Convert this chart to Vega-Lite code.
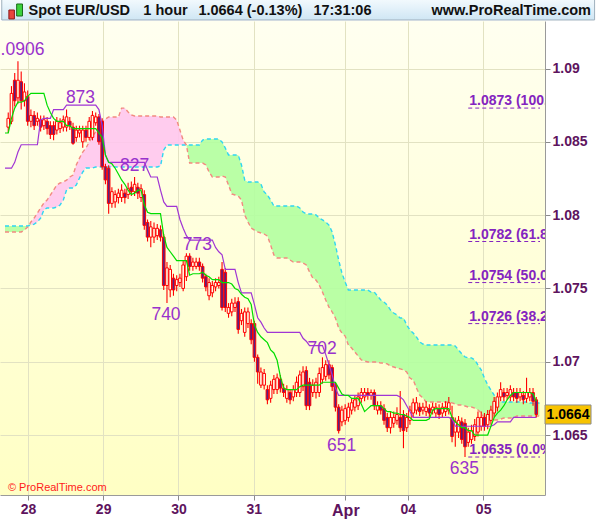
{
"$schema":"https://vega.github.io/schema/vega-lite/v6.json",
"width":545,"height":474,
"autosize":{"type":"none"},
"padding":{"left":0,"top":21,"right":55,"bottom":24},
"background":"#ffffff",
"config":{"font":"Liberation Sans","axis":{"title":null},"view":{"stroke":null,"fill":{"gradient":"linear","x1":0,"y1":0,"x2":0,"y2":1,"stops":[{"offset":0,"color":"#fffff0"},{"offset":1,"color":"#ffffc4"}]}}},
"data":{"name":"b"},
"datasets":{
"b":[
{"i":0,"t":1.0856,"k":1.0832,"a":1.07926,"b":1.07885},
{"i":1,"o":1.0860,"h":1.0870,"l":1.0856,"c":1.0866,"t":1.0856,"k":1.0832,"a":1.07926,"b":1.07885},
{"i":2,"o":1.0864,"h":1.0888,"l":1.0862,"c":1.0883,"t":1.0866,"k":1.0832,"a":1.07926,"b":1.07885},
{"i":3,"o":1.0892,"h":1.0897,"l":1.0874,"c":1.0878,"t":1.0873,"k":1.0836,"a":1.07926,"b":1.07885},
{"i":4,"o":1.0880,"h":1.0905,"l":1.0876,"c":1.0892,"t":1.0877,"k":1.0843,"a":1.07926,"b":1.07885},
{"i":5,"o":1.0891,"h":1.0898,"l":1.0872,"c":1.0878,"t":1.0877,"k":1.0848,"a":1.07926,"b":1.07885},
{"i":6,"o":1.0878,"h":1.0890,"l":1.0874,"c":1.0884,"t":1.0878,"k":1.0848,"a":1.07926,"b":1.07898},
{"i":7,"o":1.0881,"h":1.0885,"l":1.0861,"c":1.0864,"t":1.0881,"k":1.0848,"a":1.07926,"b":1.07919},
{"i":8,"o":1.0864,"h":1.0872,"l":1.0860,"c":1.0868,"t":1.0883,"k":1.0848,"a":1.07932,"b":1.07953},
{"i":9,"o":1.0868,"h":1.0871,"l":1.0858,"c":1.0861,"t":1.0883,"k":1.0848,"a":1.07939,"b":1.07980},
{"i":10,"o":1.0864,"h":1.0870,"l":1.0861,"c":1.0866,"t":1.0883,"k":1.0848,"a":1.07953,"b":1.08014},
{"i":11,"o":1.0865,"h":1.0868,"l":1.0857,"c":1.0860,"t":1.0883,"k":1.0865,"a":1.07980,"b":1.08049},
{"i":12,"o":1.0861,"h":1.0868,"l":1.0858,"c":1.0865,"t":1.0883,"k":1.0866,"a":1.08035,"b":1.08083},
{"i":13,"o":1.0864,"h":1.0867,"l":1.0855,"c":1.0859,"t":1.0875,"k":1.0866,"a":1.08049,"b":1.08103},
{"i":14,"o":1.0861,"h":1.0864,"l":1.0852,"c":1.0855,"t":1.0870,"k":1.0866,"a":1.08049,"b":1.08137},
{"i":15,"o":1.0861,"h":1.0864,"l":1.0851,"c":1.0855,"t":1.0866,"k":1.0872,"a":1.08049,"b":1.08171},
{"i":16,"o":1.0858,"h":1.0867,"l":1.0855,"c":1.0864,"t":1.0864,"k":1.0872,"a":1.08055,"b":1.08205},
{"i":17,"o":1.0859,"h":1.0866,"l":1.0856,"c":1.0863,"t":1.0864,"k":1.0872,"a":1.08069,"b":1.08219},
{"i":18,"o":1.0860,"h":1.0868,"l":1.0857,"c":1.0865,"t":1.0864,"k":1.0872,"a":1.08103,"b":1.08226},
{"i":19,"o":1.0860,"h":1.0872,"l":1.0857,"c":1.0867,"t":1.0861,"k":1.0875,"a":1.08171,"b":1.08239},
{"i":20,"o":1.0864,"h":1.0867,"l":1.0858,"c":1.0861,"t":1.0861,"k":1.0875,"a":1.08185,"b":1.08260},
{"i":21,"o":1.0860,"h":1.0863,"l":1.0848,"c":1.0849,"t":1.0859,"k":1.0875,"a":1.08185,"b":1.08273},
{"i":22,"o":1.0853,"h":1.0861,"l":1.0850,"c":1.0858,"t":1.0859,"k":1.0875,"a":1.08205,"b":1.08342},
{"i":23,"o":1.0856,"h":1.0861,"l":1.0853,"c":1.0858,"t":1.0859,"k":1.0875,"a":1.08253,"b":1.08389},
{"i":24,"o":1.0850,"h":1.0861,"l":1.0846,"c":1.0858,"t":1.0859,"k":1.0875,"a":1.08294,"b":1.08430},
{"i":25,"o":1.0858,"h":1.0861,"l":1.0850,"c":1.0853,"t":1.0859,"k":1.0875,"a":1.08321,"b":1.08458},
{"i":26,"o":1.0853,"h":1.0867,"l":1.0851,"c":1.0864,"t":1.0859,"k":1.0875,"a":1.08321,"b":1.08499},
{"i":27,"o":1.0853,"h":1.0871,"l":1.0851,"c":1.0868,"t":1.0859,"k":1.0875,"a":1.08321,"b":1.08539},
{"i":28,"o":1.0863,"h":1.0870,"l":1.0861,"c":1.0867,"t":1.0859,"k":1.0875,"a":1.08328,"b":1.08567},
{"i":29,"o":1.0867,"h":1.0869,"l":1.0848,"c":1.0850,"t":1.0856,"k":1.0872,"a":1.08328,"b":1.08608},
{"i":30,"o":1.0864,"h":1.0866,"l":1.0831,"c":1.0833,"t":1.0853,"k":1.0861,"a":1.08328,"b":1.08635},
{"i":31,"o":1.0833,"h":1.0835,"l":1.0821,"c":1.0824,"t":1.0841,"k":1.0841,"a":1.08328,"b":1.08655},
{"i":32,"o":1.0832,"h":1.0834,"l":1.0801,"c":1.0808,"t":1.0836,"k":1.0836,"a":1.08328,"b":1.08669},
{"i":33,"o":1.0808,"h":1.0819,"l":1.0805,"c":1.0816,"t":1.0835,"k":1.0836,"a":1.08328,"b":1.08669},
{"i":34,"o":1.0809,"h":1.0817,"l":1.0805,"c":1.0814,"t":1.0832,"k":1.0836,"a":1.08328,"b":1.08669},
{"i":35,"o":1.0812,"h":1.0818,"l":1.0808,"c":1.0815,"t":1.0828,"k":1.0836,"a":1.08328,"b":1.08669},
{"i":36,"o":1.0812,"h":1.0821,"l":1.0809,"c":1.0817,"t":1.0824,"k":1.0836,"a":1.08328,"b":1.08730},
{"i":37,"o":1.0815,"h":1.0818,"l":1.0808,"c":1.0812,"t":1.0821,"k":1.0836,"a":1.08328,"b":1.08730},
{"i":38,"o":1.0814,"h":1.0822,"l":1.0811,"c":1.0818,"t":1.0817,"k":1.0836,"a":1.08328,"b":1.08703},
{"i":39,"o":1.0819,"h":1.0823,"l":1.0813,"c":1.0816,"t":1.0814,"k":1.0836,"a":1.08328,"b":1.08683},
{"i":40,"o":1.0816,"h":1.0826,"l":1.0813,"c":1.0821,"t":1.0815,"k":1.0836,"a":1.08328,"b":1.08676},
{"i":41,"o":1.0819,"h":1.0822,"l":1.0811,"c":1.0815,"t":1.0817,"k":1.0836,"a":1.08328,"b":1.08676},
{"i":42,"o":1.0812,"h":1.0821,"l":1.0809,"c":1.0818,"t":1.0817,"k":1.0836,"a":1.08328,"b":1.08676},
{"i":43,"o":1.0814,"h":1.0817,"l":1.0790,"c":1.0793,"t":1.0807,"k":1.0836,"a":1.08328,"b":1.08676},
{"i":44,"o":1.0795,"h":1.0797,"l":1.0782,"c":1.0785,"t":1.0802,"k":1.0831,"a":1.08328,"b":1.08676},
{"i":45,"o":1.0785,"h":1.0796,"l":1.0778,"c":1.0792,"t":1.0801,"k":1.0826,"a":1.08328,"b":1.08676},
{"i":46,"o":1.0785,"h":1.0795,"l":1.0781,"c":1.0791,"t":1.0801,"k":1.0826,"a":1.08328,"b":1.08676},
{"i":47,"o":1.0786,"h":1.0794,"l":1.0783,"c":1.0791,"t":1.0801,"k":1.0826,"a":1.08328,"b":1.08676},
{"i":48,"o":1.0790,"h":1.0793,"l":1.0782,"c":1.0785,"t":1.0801,"k":1.0817,"a":1.08335,"b":1.08669},
{"i":49,"o":1.0785,"h":1.0787,"l":1.0749,"c":1.0752,"t":1.0786,"k":1.0809,"a":1.08444,"b":1.08669},
{"i":50,"o":1.0752,"h":1.0768,"l":1.0740,"c":1.0764,"t":1.0778,"k":1.0806,"a":1.08478,"b":1.08669},
{"i":51,"o":1.0749,"h":1.0766,"l":1.0744,"c":1.0763,"t":1.0775,"k":1.0806,"a":1.08478,"b":1.08669},
{"i":52,"o":1.0757,"h":1.0760,"l":1.0745,"c":1.0749,"t":1.0772,"k":1.0806,"a":1.08478,"b":1.08669},
{"i":53,"o":1.0752,"h":1.0759,"l":1.0748,"c":1.0756,"t":1.0769,"k":1.0806,"a":1.08478,"b":1.08649},
{"i":54,"o":1.0754,"h":1.0760,"l":1.0751,"c":1.0757,"t":1.0769,"k":1.0797,"a":1.08478,"b":1.08580},
{"i":55,"o":1.0750,"h":1.0769,"l":1.0748,"c":1.0766,"t":1.0769,"k":1.0791,"a":1.08478,"b":1.08512},
{"i":56,"o":1.0758,"h":1.0774,"l":1.0755,"c":1.0772,"t":1.0769,"k":1.0786,"a":1.08478,"b":1.08478},
{"i":57,"o":1.0772,"h":1.0774,"l":1.0762,"c":1.0765,"t":1.0759,"k":1.0783,"a":1.08478,"b":1.08355},
{"i":58,"o":1.0765,"h":1.0771,"l":1.0762,"c":1.0768,"t":1.0760,"k":1.0783,"a":1.08478,"b":1.08355},
{"i":59,"o":1.0765,"h":1.0771,"l":1.0763,"c":1.0768,"t":1.0760,"k":1.0783,"a":1.08478,"b":1.08355},
{"i":60,"o":1.0768,"h":1.0771,"l":1.0762,"c":1.0765,"t":1.0760,"k":1.0783,"a":1.08478,"b":1.08355},
{"i":61,"o":1.0765,"h":1.0767,"l":1.0754,"c":1.0757,"t":1.0761,"k":1.0783,"a":1.08512,"b":1.08355},
{"i":62,"o":1.0758,"h":1.0760,"l":1.0748,"c":1.0751,"t":1.0759,"k":1.0783,"a":1.08519,"b":1.08342},
{"i":63,"o":1.0745,"h":1.0757,"l":1.0742,"c":1.0754,"t":1.0758,"k":1.0783,"a":1.08519,"b":1.08294},
{"i":64,"o":1.0747,"h":1.0755,"l":1.0744,"c":1.0752,"t":1.0756,"k":1.0783,"a":1.08519,"b":1.08260},
{"i":65,"o":1.0751,"h":1.0757,"l":1.0748,"c":1.0754,"t":1.0756,"k":1.0778,"a":1.08519,"b":1.08260},
{"i":66,"o":1.0752,"h":1.0758,"l":1.0750,"c":1.0754,"t":1.0756,"k":1.0775,"a":1.08519,"b":1.08260},
{"i":67,"o":1.0763,"h":1.0768,"l":1.0735,"c":1.0737,"t":1.0754,"k":1.0773,"a":1.08499,"b":1.08267},
{"i":68,"o":1.0761,"h":1.0764,"l":1.0734,"c":1.0737,"t":1.0754,"k":1.0763,"a":1.08458,"b":1.08260},
{"i":69,"o":1.0733,"h":1.0740,"l":1.0730,"c":1.0737,"t":1.0754,"k":1.0763,"a":1.08410,"b":1.08205},
{"i":70,"o":1.0734,"h":1.0743,"l":1.0731,"c":1.0740,"t":1.0753,"k":1.0763,"a":1.08410,"b":1.08144},
{"i":71,"o":1.0737,"h":1.0744,"l":1.0734,"c":1.0740,"t":1.0750,"k":1.0763,"a":1.08410,"b":1.08137},
{"i":72,"o":1.0741,"h":1.0744,"l":1.0719,"c":1.0722,"t":1.0749,"k":1.0754,"a":1.08410,"b":1.08130},
{"i":73,"o":1.0728,"h":1.0736,"l":1.0725,"c":1.0733,"t":1.0746,"k":1.0747,"a":1.08342,"b":1.08103},
{"i":74,"o":1.0720,"h":1.0737,"l":1.0717,"c":1.0734,"t":1.0744,"k":1.0747,"a":1.08239,"b":1.08001},
{"i":75,"o":1.0726,"h":1.0737,"l":1.0723,"c":1.0734,"t":1.0743,"k":1.0747,"a":1.08226,"b":1.07953},
{"i":76,"o":1.0726,"h":1.0729,"l":1.0712,"c":1.0715,"t":1.0739,"k":1.0747,"a":1.08226,"b":1.07912},
{"i":77,"o":1.0726,"h":1.0728,"l":1.0700,"c":1.0703,"t":1.0725,"k":1.0739,"a":1.08226,"b":1.07898},
{"i":78,"o":1.0703,"h":1.0705,"l":1.0685,"c":1.0693,"t":1.0720,"k":1.0730,"a":1.08226,"b":1.07885},
{"i":79,"o":1.0684,"h":1.0696,"l":1.0682,"c":1.0693,"t":1.0717,"k":1.0727,"a":1.08212,"b":1.07878},
{"i":80,"o":1.0684,"h":1.0695,"l":1.0681,"c":1.0692,"t":1.0715,"k":1.0723,"a":1.08158,"b":1.07871},
{"i":81,"o":1.0681,"h":1.0684,"l":1.0671,"c":1.0674,"t":1.0713,"k":1.0720,"a":1.08137,"b":1.07857},
{"i":82,"o":1.0675,"h":1.0687,"l":1.0672,"c":1.0684,"t":1.0708,"k":1.0720,"a":1.08103,"b":1.07796},
{"i":83,"o":1.0681,"h":1.0691,"l":1.0678,"c":1.0688,"t":1.0706,"k":1.0720,"a":1.08062,"b":1.07728},
{"i":84,"o":1.0681,"h":1.0692,"l":1.0678,"c":1.0689,"t":1.0701,"k":1.0720,"a":1.08062,"b":1.07708},
{"i":85,"o":1.0688,"h":1.0691,"l":1.0679,"c":1.0682,"t":1.0690,"k":1.0720,"a":1.08062,"b":1.07708},
{"i":86,"o":1.0682,"h":1.0685,"l":1.0676,"c":1.0679,"t":1.0682,"k":1.0720,"a":1.08062,"b":1.07708},
{"i":87,"o":1.0675,"h":1.0684,"l":1.0672,"c":1.0681,"t":1.0681,"k":1.0720,"a":1.08062,"b":1.07708},
{"i":88,"o":1.0679,"h":1.0681,"l":1.0671,"c":1.0674,"t":1.0681,"k":1.0720,"a":1.08062,"b":1.07694},
{"i":89,"o":1.0676,"h":1.0684,"l":1.0673,"c":1.0681,"t":1.0681,"k":1.0720,"a":1.08062,"b":1.07680},
{"i":90,"o":1.0679,"h":1.0690,"l":1.0676,"c":1.0686,"t":1.0681,"k":1.0720,"a":1.08062,"b":1.07680},
{"i":91,"o":1.0679,"h":1.0694,"l":1.0676,"c":1.0691,"t":1.0683,"k":1.0720,"a":1.08049,"b":1.07680},
{"i":92,"o":1.0683,"h":1.0697,"l":1.0680,"c":1.0693,"t":1.0684,"k":1.0716,"a":1.08021,"b":1.07673},
{"i":93,"o":1.0694,"h":1.0697,"l":1.0667,"c":1.0670,"t":1.0684,"k":1.0714,"a":1.08008,"b":1.07660},
{"i":94,"o":1.0686,"h":1.0689,"l":1.0667,"c":1.0670,"t":1.0684,"k":1.0711,"a":1.08008,"b":1.07612},
{"i":95,"o":1.0679,"h":1.0688,"l":1.0676,"c":1.0684,"t":1.0684,"k":1.0711,"a":1.08008,"b":1.07571},
{"i":96,"o":1.0679,"h":1.0689,"l":1.0675,"c":1.0686,"t":1.0684,"k":1.0711,"a":1.08001,"b":1.07557},
{"i":97,"o":1.0679,"h":1.0696,"l":1.0676,"c":1.0692,"t":1.0684,"k":1.0711,"a":1.07980,"b":1.07523},
{"i":98,"o":1.0688,"h":1.0703,"l":1.0685,"c":1.0696,"t":1.0686,"k":1.0711,"a":1.07967,"b":1.07475},
{"i":99,"o":1.0690,"h":1.0701,"l":1.0687,"c":1.0698,"t":1.0686,"k":1.0705,"a":1.07953,"b":1.07421},
{"i":100,"o":1.0698,"h":1.0701,"l":1.0688,"c":1.0691,"t":1.0686,"k":1.0698,"a":1.07932,"b":1.07373},
{"i":101,"o":1.0696,"h":1.0698,"l":1.0680,"c":1.0683,"t":1.0686,"k":1.0691,"a":1.07885,"b":1.07339},
{"i":102,"o":1.0684,"h":1.0686,"l":1.0666,"c":1.0669,"t":1.0686,"k":1.0682,"a":1.07796,"b":1.07298},
{"i":103,"o":1.0669,"h":1.0671,"l":1.0651,"c":1.0653,"t":1.0682,"k":1.0677,"a":1.07694,"b":1.07230},
{"i":104,"o":1.0659,"h":1.0670,"l":1.0656,"c":1.0667,"t":1.0678,"k":1.0677,"a":1.07605,"b":1.07196},
{"i":105,"o":1.0660,"h":1.0671,"l":1.0657,"c":1.0668,"t":1.0677,"k":1.0677,"a":1.07544,"b":1.07175},
{"i":106,"o":1.0662,"h":1.0672,"l":1.0659,"c":1.0669,"t":1.0677,"k":1.0677,"a":1.07489,"b":1.07114},
{"i":107,"o":1.0667,"h":1.0675,"l":1.0664,"c":1.0672,"t":1.0675,"k":1.0677,"a":1.07489,"b":1.07094},
{"i":108,"o":1.0669,"h":1.0677,"l":1.0666,"c":1.0674,"t":1.0675,"k":1.0677,"a":1.07489,"b":1.07066},
{"i":109,"o":1.0670,"h":1.0679,"l":1.0667,"c":1.0676,"t":1.0675,"k":1.0677,"a":1.07489,"b":1.07039},
{"i":110,"o":1.0675,"h":1.0682,"l":1.0672,"c":1.0679,"t":1.0671,"k":1.0677,"a":1.07489,"b":1.07012},
{"i":111,"o":1.0676,"h":1.0682,"l":1.0673,"c":1.0679,"t":1.0666,"k":1.0677,"a":1.07489,"b":1.07005},
{"i":112,"o":1.0679,"h":1.0682,"l":1.0674,"c":1.0677,"t":1.0668,"k":1.0677,"a":1.07489,"b":1.06998},
{"i":113,"o":1.0677,"h":1.0681,"l":1.0674,"c":1.0679,"t":1.0670,"k":1.0677,"a":1.07475,"b":1.06998},
{"i":114,"o":1.0679,"h":1.0681,"l":1.0667,"c":1.0670,"t":1.0670,"k":1.0677,"a":1.07475,"b":1.06998},
{"i":115,"o":1.0667,"h":1.0673,"l":1.0664,"c":1.0670,"t":1.0670,"k":1.0677,"a":1.07448,"b":1.06998},
{"i":116,"o":1.0670,"h":1.0673,"l":1.0664,"c":1.0667,"t":1.0670,"k":1.0677,"a":1.07421,"b":1.06991},
{"i":117,"o":1.0668,"h":1.0671,"l":1.0657,"c":1.0660,"t":1.0668,"k":1.0677,"a":1.07407,"b":1.06991},
{"i":118,"o":1.0662,"h":1.0665,"l":1.0652,"c":1.0655,"t":1.0666,"k":1.0677,"a":1.07386,"b":1.06985},
{"i":119,"o":1.0655,"h":1.0666,"l":1.0651,"c":1.0662,"t":1.0666,"k":1.0677,"a":1.07352,"b":1.06971},
{"i":120,"o":1.0658,"h":1.0666,"l":1.0655,"c":1.0662,"t":1.0665,"k":1.0677,"a":1.07332,"b":1.06964},
{"i":121,"o":1.0660,"h":1.0669,"l":1.0657,"c":1.0664,"t":1.0665,"k":1.0677,"a":1.07319,"b":1.06957},
{"i":122,"o":1.0662,"h":1.0680,"l":1.0652,"c":1.0655,"t":1.0664,"k":1.0676,"a":1.07298,"b":1.06951},
{"i":123,"o":1.0664,"h":1.0667,"l":1.0641,"c":1.0653,"t":1.0664,"k":1.0674,"a":1.07298,"b":1.06944},
{"i":124,"o":1.0655,"h":1.0665,"l":1.0652,"c":1.0662,"t":1.0663,"k":1.0670,"a":1.07251,"b":1.06930},
{"i":125,"o":1.0660,"h":1.0670,"l":1.0657,"c":1.0667,"t":1.0662,"k":1.0666,"a":1.07216,"b":1.06889},
{"i":126,"o":1.0665,"h":1.0675,"l":1.0662,"c":1.0672,"t":1.0660,"k":1.0662,"a":1.07196,"b":1.06876},
{"i":127,"o":1.0667,"h":1.0676,"l":1.0664,"c":1.0672,"t":1.0660,"k":1.0662,"a":1.07169,"b":1.06821},
{"i":128,"o":1.0669,"h":1.0672,"l":1.0663,"c":1.0666,"t":1.0660,"k":1.0662,"a":1.07135,"b":1.06773},
{"i":129,"o":1.0667,"h":1.0672,"l":1.0664,"c":1.0669,"t":1.0660,"k":1.0662,"a":1.07121,"b":1.06753},
{"i":130,"o":1.0666,"h":1.0673,"l":1.0663,"c":1.0669,"t":1.0660,"k":1.0662,"a":1.07114,"b":1.06725},
{"i":131,"o":1.0668,"h":1.0671,"l":1.0662,"c":1.0665,"t":1.0661,"k":1.0662,"a":1.07114,"b":1.06725},
{"i":132,"o":1.0667,"h":1.0672,"l":1.0664,"c":1.0669,"t":1.0667,"k":1.0662,"a":1.07114,"b":1.06725},
{"i":133,"o":1.0665,"h":1.0672,"l":1.0662,"c":1.0669,"t":1.0668,"k":1.0662,"a":1.07114,"b":1.06725},
{"i":134,"o":1.0668,"h":1.0671,"l":1.0661,"c":1.0664,"t":1.0668,"k":1.0662,"a":1.07114,"b":1.06725},
{"i":135,"o":1.0665,"h":1.0672,"l":1.0662,"c":1.0669,"t":1.0668,"k":1.0662,"a":1.07114,"b":1.06725},
{"i":136,"o":1.0666,"h":1.0673,"l":1.0663,"c":1.0669,"t":1.0668,"k":1.0662,"a":1.07114,"b":1.06725},
{"i":137,"o":1.0667,"h":1.0676,"l":1.0664,"c":1.0672,"t":1.0668,"k":1.0662,"a":1.07114,"b":1.06725},
{"i":138,"o":1.0662,"h":1.0670,"l":1.0645,"c":1.0649,"t":1.0662,"k":1.0661,"a":1.07114,"b":1.06719},
{"i":139,"o":1.0652,"h":1.0662,"l":1.0642,"c":1.0659,"t":1.0659,"k":1.0656,"a":1.07107,"b":1.06712},
{"i":140,"o":1.0652,"h":1.0663,"l":1.0648,"c":1.0660,"t":1.0657,"k":1.0656,"a":1.07080,"b":1.06705},
{"i":141,"o":1.0659,"h":1.0662,"l":1.0644,"c":1.0647,"t":1.0655,"k":1.0656,"a":1.07054,"b":1.06705},
{"i":142,"o":1.0658,"h":1.0661,"l":1.0635,"c":1.0642,"t":1.0655,"k":1.0656,"a":1.07033,"b":1.06698},
{"i":143,"o":1.0645,"h":1.0655,"l":1.0642,"c":1.0652,"t":1.0653,"k":1.0656,"a":1.07026,"b":1.06691},
{"i":144,"o":1.0647,"h":1.0657,"l":1.0644,"c":1.0653,"t":1.0653,"k":1.0656,"a":1.07026,"b":1.06691},
{"i":145,"o":1.0649,"h":1.0661,"l":1.0646,"c":1.0657,"t":1.0650,"k":1.0656,"a":1.07012,"b":1.06684},
{"i":146,"o":1.0652,"h":1.0666,"l":1.0649,"c":1.0662,"t":1.0650,"k":1.0656,"a":1.06978,"b":1.06671},
{"i":147,"o":1.0656,"h":1.0666,"l":1.0653,"c":1.0662,"t":1.0650,"k":1.0656,"a":1.06944,"b":1.06650},
{"i":148,"o":1.0662,"h":1.0665,"l":1.0653,"c":1.0656,"t":1.0650,"k":1.0656,"a":1.06889,"b":1.06616},
{"i":149,"o":1.0657,"h":1.0667,"l":1.0654,"c":1.0664,"t":1.0650,"k":1.0656,"a":1.06842,"b":1.06603},
{"i":150,"o":1.0660,"h":1.0670,"l":1.0657,"c":1.0667,"t":1.0656,"k":1.0656,"a":1.06807,"b":1.06603},
{"i":151,"o":1.0665,"h":1.0676,"l":1.0662,"c":1.0673,"t":1.0662,"k":1.0657,"a":1.06773,"b":1.06603},
{"i":152,"o":1.0669,"h":1.0679,"l":1.0666,"c":1.0676,"t":1.0665,"k":1.0659,"a":1.06739,"b":1.06603},
{"i":153,"o":1.0676,"h":1.0686,"l":1.0673,"c":1.0681,"t":1.0667,"k":1.0659,"a":1.06725,"b":1.06609},
{"i":154,"o":1.0679,"h":1.0682,"l":1.0673,"c":1.0676,"t":1.0670,"k":1.0659,"a":1.06725,"b":1.06616},
{"i":155,"o":1.0677,"h":1.0682,"l":1.0674,"c":1.0679,"t":1.0674,"k":1.0659,"a":1.06725,"b":1.06616},
{"i":156,"o":1.0676,"h":1.0684,"l":1.0673,"c":1.0681,"t":1.0677,"k":1.0659,"a":1.06725,"b":1.06616},
{"i":157,"o":1.0679,"h":1.0682,"l":1.0673,"c":1.0676,"t":1.0679,"k":1.0662,"a":1.06725,"b":1.06616},
{"i":158,"o":1.0679,"h":1.0682,"l":1.0672,"c":1.0675,"t":1.0679,"k":1.0662,"a":1.06725,"b":1.06630},
{"i":159,"o":1.0676,"h":1.0682,"l":1.0673,"c":1.0679,"t":1.0679,"k":1.0662,"a":1.06725,"b":1.06630},
{"i":160,"o":1.0677,"h":1.0680,"l":1.0671,"c":1.0674,"t":1.0679,"k":1.0662,"a":1.06725,"b":1.06630},
{"i":161,"o":1.0675,"h":1.0689,"l":1.0672,"c":1.0679,"t":1.0679,"k":1.0662,"a":1.06725,"b":1.06630},
{"i":162,"o":1.0676,"h":1.0682,"l":1.0673,"c":1.0679,"t":1.0679,"k":1.0662,"a":1.06719,"b":1.06630},
{"i":163,"o":1.0679,"h":1.0682,"l":1.0670,"c":1.0673,"t":1.0678,"k":1.0662,"a":1.06719,"b":1.06630},
{"i":164,"o":1.0674,"h":1.0676,"l":1.0662,"c":1.0664,"t":1.0673,"k":1.0662,"a":1.06719,"b":1.06630},
{"i":165,"a":1.06719,"b":1.06630}
],
"sw":[
{"i":3.9,"v":1.0906,"t":"1.0906","k":"hi"},
{"i":23.3,"v":1.0873,"t":"873","k":"hi"},
{"i":40,"v":1.0827,"t":"827","k":"hi"},
{"i":59.4,"v":1.0773,"t":"773","k":"hi"},
{"i":97.9,"v":1.0702,"t":"702","k":"hi"},
{"i":49.7,"v":1.0740,"t":"740","k":"lo"},
{"i":103.9,"v":1.0651,"t":"651","k":"lo"},
{"i":141.8,"v":1.0635,"t":"635","k":"lo"}
],
"fib":[
{"lvl":1.0873,"lab":"1.0873 (100.0%)"},
{"lvl":1.0782,"lab":"1.0782 (61.8%)"},
{"lvl":1.0754,"lab":"1.0754 (50.0%)"},
{"lvl":1.0726,"lab":"1.0726 (38.2%)"},
{"lvl":1.0635,"lab":"1.0635 (0.0%)"}
]
},
"layer":[
{"transform":[{"filter":{"field":"i","range":[7,56]}}],
 "mark":{"type":"area","color":"#ffc6ee","opacity":0.9},
 "encoding":{"x":{"field":"i","type":"quantitative","scale":{"domain":[0,165.15],"nice":false,"zero":false},
   "axis":{"orient":"bottom","values":[7.12,30.3,53.55,76.8,105.06,124.3,147.6],
    "labelExpr":"datum.value < 15 ? '28' : datum.value < 40 ? '29' : datum.value < 60 ? '30' : datum.value < 90 ? '31' : datum.value < 110 ? 'Apr' : datum.value < 130 ? '04' : '05'",
    "title":null,"grid":true,"gridColor":"#e2e2c2","tickColor":"#8a8a8a","tickSize":5,"domainColor":"#9a9a9a","labelFont":"Liberation Sans",
    "labelFontSize":{"condition":{"test":"datum.value > 100 && datum.value < 110","value":16},"value":14},
    "labelFontWeight":"bold","labelColor":"#5e145e","labelPadding":2,"labelOverlap":false,"labelFlush":false}},
  "y":{"field":"a","type":"quantitative","scale":{"domain":[1.06091,1.09324],"nice":false,"zero":false},
   "axis":{"orient":"right","values":[1.065,1.07,1.075,1.08,1.085,1.09],"format":".3~f","title":null,"grid":true,"gridColor":"#e2e2c2",
    "tickColor":"#8a8a8a","tickSize":5,"domainColor":"#9a9a9a","labelFont":"Liberation Sans","labelFontSize":14,"labelFontWeight":"bold",
    "labelColor":"#5e145e","labelPadding":2,"labelOverlap":false}},
  "y2":{"field":"b"}}},
{"transform":[{"filter":{"field":"i","range":[0,8]}}],
 "mark":{"type":"area","color":"#b2ffa0","opacity":0.9},
 "encoding":{"x":{"field":"i","type":"quantitative","scale":{"domain":[0,165.15],"nice":false,"zero":false}},
  "y":{"field":"a","type":"quantitative","scale":{"domain":[1.06091,1.09324],"nice":false,"zero":false}},"y2":{"field":"b"}}},
{"transform":[{"filter":{"field":"i","range":[56,165]}}],
 "mark":{"type":"area","color":"#b2ffa0","opacity":0.9},
 "encoding":{"x":{"field":"i","type":"quantitative","scale":{"domain":[0,165.15],"nice":false,"zero":false}},
  "y":{"field":"a","type":"quantitative","scale":{"domain":[1.06091,1.09324],"nice":false,"zero":false}},"y2":{"field":"b"}}},
{"mark":{"type":"line","color":"#2fd6f2","strokeWidth":1.4,"strokeDash":[4,3]},
 "encoding":{"x":{"field":"i","type":"quantitative","scale":{"domain":[0,165.15],"nice":false,"zero":false}},
  "y":{"field":"a","type":"quantitative","scale":{"domain":[1.06091,1.09324],"nice":false,"zero":false}}}},
{"mark":{"type":"line","color":"#f28a80","strokeWidth":1.4,"strokeDash":[4,3]},
 "encoding":{"x":{"field":"i","type":"quantitative","scale":{"domain":[0,165.15],"nice":false,"zero":false}},
  "y":{"field":"b","type":"quantitative","scale":{"domain":[1.06091,1.09324],"nice":false,"zero":false}}}},
{"mark":{"type":"rule","color":"#ff0000","strokeWidth":1.1},
 "encoding":{"x":{"field":"i","type":"quantitative","scale":{"domain":[0,165.15],"nice":false,"zero":false}},
  "y":{"field":"l","type":"quantitative","scale":{"domain":[1.06091,1.09324],"nice":false,"zero":false}},
  "y2":{"field":"h"}}},
{"mark":{"type":"bar","size":2.6,"stroke":"#ff0000","strokeWidth":1},
 "encoding":{"x":{"field":"i","type":"quantitative","scale":{"domain":[0,165.15],"nice":false,"zero":false}},
  "y":{"field":"o","type":"quantitative","scale":{"domain":[1.06091,1.09324],"nice":false,"zero":false}},"y2":{"field":"c"},
  "fill":{"condition":{"test":"datum.c < datum.o","value":"#5a2080"},"value":"#ffffe8"}}},
{"mark":{"type":"line","color":"#a035d4","strokeWidth":1.2},
 "encoding":{"x":{"field":"i","type":"quantitative","scale":{"domain":[0,165.15],"nice":false,"zero":false}},
  "y":{"field":"k","type":"quantitative","scale":{"domain":[1.06091,1.09324],"nice":false,"zero":false}}}},
{"mark":{"type":"line","color":"#00dd00","strokeWidth":1.2},
 "encoding":{"x":{"field":"i","type":"quantitative","scale":{"domain":[0,165.15],"nice":false,"zero":false}},
  "y":{"field":"t","type":"quantitative","scale":{"domain":[1.06091,1.09324],"nice":false,"zero":false}}}},
{"data":{"name":"fib"},
 "mark":{"type":"rule","color":"#8424c0","strokeWidth":1,"strokeDash":[4,3]},
 "encoding":{"x":{"datum":143,"type":"quantitative","scale":{"domain":[0,165.15],"nice":false,"zero":false}},"x2":{"datum":165.15},
  "y":{"field":"lvl","type":"quantitative","scale":{"domain":[1.06091,1.09324],"nice":false,"zero":false}}}},
{"data":{"name":"fib"},
 "mark":{"type":"text","align":"left","baseline":"alphabetic","dy":-3,"font":"Liberation Sans","fontSize":14,"fontWeight":"bold","color":"#8424c0","clip":true},
 "encoding":{"x":{"datum":143.3,"type":"quantitative","scale":{"domain":[0,165.15],"nice":false,"zero":false}},
  "y":{"field":"lvl","type":"quantitative","scale":{"domain":[1.06091,1.09324],"nice":false,"zero":false}},
  "text":{"field":"lab"}}},
{"data":{"name":"sw"},"transform":[{"filter":"datum.k == 'hi'"}],
 "mark":{"type":"text","align":"center","baseline":"middle","dy":-10,"font":"Liberation Sans","fontSize":17.5,"color":"#9932cc","clip":true},
 "encoding":{"x":{"field":"i","type":"quantitative","scale":{"domain":[0,165.15],"nice":false,"zero":false}},
  "y":{"field":"v","type":"quantitative","scale":{"domain":[1.06091,1.09324],"nice":false,"zero":false}},
  "text":{"field":"t"}}},
{"data":{"name":"sw"},"transform":[{"filter":"datum.k == 'lo'"}],
 "mark":{"type":"text","align":"center","baseline":"middle","dy":12,"font":"Liberation Sans","fontSize":17.5,"color":"#9932cc","clip":true},
 "encoding":{"x":{"field":"i","type":"quantitative","scale":{"domain":[0,165.15],"nice":false,"zero":false}},
  "y":{"field":"v","type":"quantitative","scale":{"domain":[1.06091,1.09324],"nice":false,"zero":false}},
  "text":{"field":"t"}}},
{"data":{"values":[{}]},
 "mark":{"type":"text","align":"left","baseline":"middle","font":"Liberation Sans","fontSize":11,"color":"#ff1a1a"},
 "encoding":{"x":{"datum":0.9,"type":"quantitative","scale":{"domain":[0,165.15],"nice":false,"zero":false}},
  "y":{"datum":1.06138,"type":"quantitative","scale":{"domain":[1.06091,1.09324],"nice":false,"zero":false}},
  "text":{"value":"© ProRealTime.com"}}},
{"data":{"values":[{}]},
 "mark":{"type":"rect","stroke":"#9fb0bd","strokeWidth":1,"color":{"gradient":"linear","x1":0,"y1":0,"x2":0,"y2":1,"stops":[{"offset":0,"color":"#f5fbfe"},{"offset":1,"color":"#cfe6f4"}]}},
 "encoding":{"x":{"datum":-1,"type":"quantitative","scale":{"domain":[0,165.15],"nice":false,"zero":false}},"x2":{"datum":182},
  "y":{"datum":1.0948,"type":"quantitative","scale":{"domain":[1.06091,1.09324],"nice":false,"zero":false}},"y2":{"datum":1.09331}}},
{"data":{"values":[{}]},
 "mark":{"type":"rect","fill":"#e8453c","stroke":"#8b1a1a","strokeWidth":1},
 "encoding":{"x":{"datum":1.2,"type":"quantitative","scale":{"domain":[0,165.15],"nice":false,"zero":false}},"x2":{"datum":2.9},
  "y":{"datum":1.09399,"type":"quantitative","scale":{"domain":[1.06091,1.09324],"nice":false,"zero":false}},"y2":{"datum":1.09338}}},
{"data":{"values":[{}]},
 "mark":{"type":"rect","fill":"#3cd23c","stroke":"#1a6b1a","strokeWidth":1},
 "encoding":{"x":{"datum":3.6,"type":"quantitative","scale":{"domain":[0,165.15],"nice":false,"zero":false}},"x2":{"datum":5.4},
  "y":{"datum":1.0944,"type":"quantitative","scale":{"domain":[1.06091,1.09324],"nice":false,"zero":false}},"y2":{"datum":1.09358}}},
{"data":{"values":[{}]},
 "mark":{"type":"text","align":"left","baseline":"middle","font":"Liberation Sans","fontSize":14.5,"fontWeight":"bold","color":"#111111"},
 "encoding":{"x":{"datum":7.27,"type":"quantitative","scale":{"domain":[0,165.15],"nice":false,"zero":false}},
  "y":{"datum":1.09392,"type":"quantitative","scale":{"domain":[1.06091,1.09324],"nice":false,"zero":false}},
  "text":{"value":"Spot EUR/USD"}}},
{"data":{"values":[{}]},
 "mark":{"type":"text","align":"left","baseline":"middle","font":"Liberation Sans","fontSize":14.5,"fontWeight":"bold","color":"#111111"},
 "encoding":{"x":{"datum":42.7,"type":"quantitative","scale":{"domain":[0,165.15],"nice":false,"zero":false}},
  "y":{"datum":1.09392,"type":"quantitative","scale":{"domain":[1.06091,1.09324],"nice":false,"zero":false}},
  "text":{"value":"1 hour"}}},
{"data":{"values":[{}]},
 "mark":{"type":"text","align":"left","baseline":"middle","font":"Liberation Sans","fontSize":14.5,"fontWeight":"bold","color":"#111111"},
 "encoding":{"x":{"datum":59.7,"type":"quantitative","scale":{"domain":[0,165.15],"nice":false,"zero":false}},
  "y":{"datum":1.09392,"type":"quantitative","scale":{"domain":[1.06091,1.09324],"nice":false,"zero":false}},
  "text":{"value":"1.0664 (-0.13%)"}}},
{"data":{"values":[{}]},
 "mark":{"type":"text","align":"left","baseline":"middle","font":"Liberation Sans","fontSize":14.5,"fontWeight":"bold","color":"#111111"},
 "encoding":{"x":{"datum":95.2,"type":"quantitative","scale":{"domain":[0,165.15],"nice":false,"zero":false}},
  "y":{"datum":1.09392,"type":"quantitative","scale":{"domain":[1.06091,1.09324],"nice":false,"zero":false}},
  "text":{"value":"17:31:06"}}},
{"data":{"values":[{}]},
 "mark":{"type":"text","align":"right","baseline":"middle","font":"Liberation Sans","fontSize":14.5,"fontWeight":"bold","color":"#111111"},
 "encoding":{"x":{"datum":180.9,"type":"quantitative","scale":{"domain":[0,165.15],"nice":false,"zero":false}},
  "y":{"datum":1.09392,"type":"quantitative","scale":{"domain":[1.06091,1.09324],"nice":false,"zero":false}},
  "text":{"value":"www.ProRealTime.com"}}},
{"data":{"values":[{}]},
 "mark":{"type":"rect","fill":"#f7c300","stroke":"#8c8c8c","strokeWidth":1},
 "encoding":{"x":{"datum":166.7,"type":"quantitative","scale":{"domain":[0,165.15],"nice":false,"zero":false}},"x2":{"datum":180.9},
  "y":{"datum":1.06705,"type":"quantitative","scale":{"domain":[1.06091,1.09324],"nice":false,"zero":false}},"y2":{"datum":1.06575}}},
{"data":{"values":[{}]},
 "mark":{"type":"text","align":"center","baseline":"middle","font":"Liberation Sans","fontSize":14,"fontWeight":"bold","color":"#000000"},
 "encoding":{"x":{"datum":173.8,"type":"quantitative","scale":{"domain":[0,165.15],"nice":false,"zero":false}},
  "y":{"datum":1.0664,"type":"quantitative","scale":{"domain":[1.06091,1.09324],"nice":false,"zero":false}},
  "text":{"value":"1.0664"}}}
]
}
